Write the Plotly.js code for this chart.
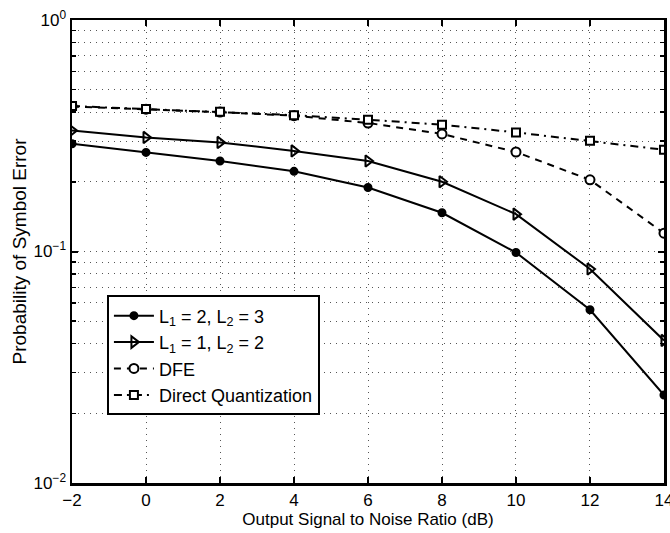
<!DOCTYPE html>
<html><head><meta charset="utf-8">
<script src="https://cdn.plot.ly/plotly-3.0.1.min.js"></script>
<style>html,body{margin:0;padding:0;background:#fff}#chart{width:670px;height:533px}</style>
</head><body><div id="chart"></div>
<script>
const snr = [-2, 0, 2, 4, 6, 8, 10, 12, 14];
const l23 = [0.292, 0.268, 0.246, 0.222, 0.189, 0.147, 0.099, 0.056, 0.024];
const l12 = [0.333, 0.311, 0.296, 0.272, 0.246, 0.200, 0.145, 0.084, 0.0413];
const dfe = [0.423, 0.412, 0.400, 0.386, 0.359, 0.322, 0.269, 0.204, 0.120];
const dq  = [0.425, 0.413, 0.401, 0.388, 0.371, 0.353, 0.327, 0.301, 0.275];
const names = ["L<sub>1</sub> = 2, L<sub>2</sub> = 3", "L<sub>1</sub> = 1, L<sub>2</sub> = 2", "DFE", "Direct Quantization"];
const yTickVals = [0.01, 0.1, 1];
const yTickText = ["10<sup>−2</sup>", "10<sup>−1</sup>", "10<sup>0</sup>"];
const yMinorVals = [0.02,0.03,0.04,0.05,0.06,0.07,0.08,0.09,0.2,0.3,0.4,0.5,0.6,0.7,0.8,0.9];
const xTickVals = [-2, 0, 2, 4, 6, 8, 10, 12, 14];

const F = "Liberation Sans, Arial, Helvetica, sans-serif";
const GRID = '#555';
const GDASH = '1px,5px';
const mk = (sym, size, fill) => ({symbol: sym, size: size, color: fill, line: {color: 'black', width: 2}});
const traces = [
  {x: snr, y: l23, name: names[0], mode: 'lines+markers', line: {color: 'black', width: 2, dash: 'solid'}, marker: mk('circle', 7, 'black')},
  {x: snr, y: l12, name: names[1], mode: 'lines+markers', line: {color: 'black', width: 2, dash: 'solid'}, marker: mk('triangle-right-open', 10, 'black')},
  {x: snr, y: dfe, name: names[2], mode: 'lines+markers', line: {color: 'black', width: 2, dash: '7px,6px'}, marker: mk('circle', 9, 'white')},
  {x: snr, y: dq,  name: names[3], mode: 'lines+markers', line: {color: 'black', width: 2, dash: '8px,5px,2px,5px'}, marker: mk('square', 8, 'white')}
];
const layout = {
  width: 670, height: 533,
  margin: {l: 72, r: 6, t: 20, b: 50},
  paper_bgcolor: 'white', plot_bgcolor: 'white',
  font: {family: F, size: 17, color: 'black'},
  showlegend: true,
  legend: {x: 0.059, y: 0.405, xanchor: 'left', yanchor: 'top', bgcolor: 'white', bordercolor: 'black', borderwidth: 2, font: {family: F, size: 18}, tracegroupgap: 0, itemwidth: 40},
  xaxis: {
    range: [-2.0005, 14.0005], tickmode: 'array', tickvals: xTickVals, ticklabeloverflow: 'allow',
    showline: true, linecolor: 'black', linewidth: 2.5, mirror: 'ticks',
    ticks: 'inside', ticklen: 6, tickwidth: 2, tickcolor: 'black',
    showgrid: true, gridcolor: GRID, griddash: GDASH, gridwidth: 1, zeroline: false,
    tickfont: {family: F, size: 17},
    title: {text: 'Output Signal to Noise Ratio (dB)', font: {family: F, size: 17}, standoff: 0}
  },
  yaxis: {
    type: 'log', range: [-2, 0], tickmode: 'array', tickvals: yTickVals, ticktext: yTickText,
    showline: true, linecolor: 'black', linewidth: 2.5, mirror: 'ticks',
    ticks: 'inside', ticklen: 6, tickwidth: 2, tickcolor: 'black',
    showgrid: true, gridcolor: GRID, griddash: GDASH, gridwidth: 1, zeroline: false,
    tickfont: {family: F, size: 17},
    minor: {tickmode: 'array', tickvals: yMinorVals, ticks: 'inside', ticklen: 4, tickwidth: 1.5, tickcolor: 'black', showgrid: true, gridcolor: GRID, griddash: GDASH, gridwidth: 1},
    title: {text: 'Probability of Symbol Error', font: {family: F, size: 19}, standoff: 2}
  }
};
Plotly.newPlot('chart', traces, layout, {displayModeBar: false, staticPlot: true});
</script></body></html>
